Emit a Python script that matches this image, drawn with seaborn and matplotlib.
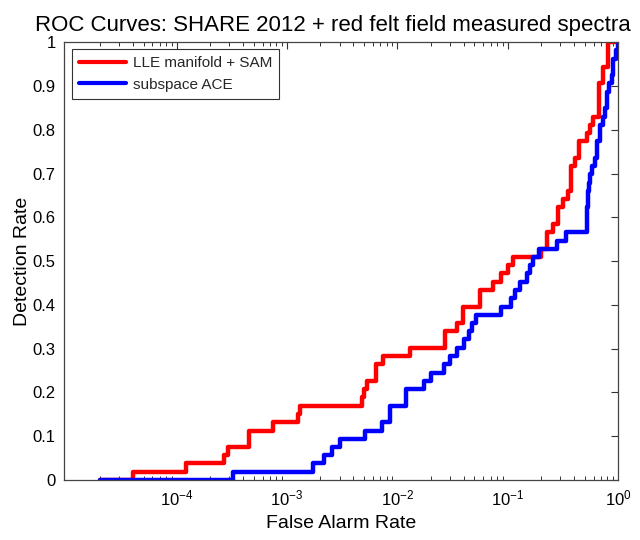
import numpy as np
import pandas as pd
import matplotlib
matplotlib.use("Agg")
import matplotlib.pyplot as plt
from matplotlib.ticker import (LogLocator, FixedLocator, FixedFormatter,
                               NullFormatter, LogFormatterSciNotation)
import seaborn as sns

# False alarm rate / detection rate pairs where each ROC curve steps up
lle_far = [2.0e-5, 4.0e-5, 1.22e-4, 2.66e-4, 2.90e-4, 4.48e-4, 7.39e-4, 1.245e-3,
           1.32e-3, 4.82e-3, 4.98e-3, 5.36e-3, 6.46e-3, 7.40e-3, 1.30e-2, 2.72e-2,
           3.49e-2, 3.96e-2, 5.63e-2, 7.39e-2, 8.73e-2, 0.101, 0.112, 0.200, 0.226,
           0.260, 0.288, 0.320, 0.355, 0.376, 0.408, 0.446, 0.521, 0.558, 0.598,
           0.677, 0.736, 0.817, 1.0]
lle_pd = [0.0, 0.019, 0.038, 0.057, 0.075, 0.113, 0.132, 0.151,
          0.170, 0.189, 0.208, 0.226, 0.264, 0.283, 0.302, 0.340,
          0.358, 0.396, 0.434, 0.453, 0.472, 0.491, 0.509, 0.528, 0.566,
          0.585, 0.623, 0.642, 0.660, 0.717, 0.736, 0.774, 0.792, 0.811, 0.830,
          0.906, 0.943, 1.0, 1.0]

ace_far = [2.0e-5, 3.26e-4, 1.71e-3, 2.15e-3, 2.53e-3, 2.99e-3, 5.13e-3, 7.24e-3,
           8.64e-3, 1.19e-2, 1.73e-2, 2.03e-2, 2.62e-2, 2.97e-2, 3.47e-2, 3.98e-2,
           4.42e-2, 4.74e-2, 5.19e-2, 8.68e-2, 0.1076, 0.1157, 0.128, 0.149, 0.160,
           0.171, 0.194, 0.282, 0.338, 0.521, 0.527, 0.535, 0.543, 0.552, 0.582,
           0.619, 0.641, 0.687, 0.727, 0.762, 0.791, 0.829, 0.883, 0.906, 0.959,
           0.99, 1.0]
ace_pd = [0.0, 0.019, 0.038, 0.057, 0.075, 0.094, 0.113, 0.132,
          0.170, 0.208, 0.226, 0.245, 0.264, 0.283, 0.302, 0.321,
          0.340, 0.358, 0.377, 0.396, 0.415, 0.434, 0.453, 0.472, 0.491,
          0.509, 0.528, 0.547, 0.566, 0.585, 0.623, 0.660, 0.679, 0.698, 0.717,
          0.736, 0.774, 0.811, 0.830, 0.849, 0.887, 0.906, 0.925, 0.962, 0.981,
          1.0, 1.0]

series_names = ["LLE manifold + SAM", "subspace ACE"]
series_colors = ["#ff0000", "#0000ff"]

x_ticks = [1e-4, 1e-3, 1e-2, 1e-1, 1.0]
y_ticks = [0, 0.1, 0.2, 0.3, 0.4, 0.5, 0.6, 0.7, 0.8, 0.9, 1]
y_tick_labels = ["0", "0.1", "0.2", "0.3", "0.4", "0.5", "0.6", "0.7", "0.8", "0.9", "1"]

df = pd.concat([
    pd.DataFrame({"far": lle_far, "pd": lle_pd, "method": series_names[0]}),
    pd.DataFrame({"far": ace_far, "pd": ace_pd, "method": series_names[1]}),
], ignore_index=True)

sns.set_theme(style="white")
plt.rcParams["font.family"] = ["Liberation Sans", "DejaVu Sans"]
plt.rcParams["mathtext.fontset"] = "custom"
plt.rcParams["mathtext.rm"] = "Liberation Sans"
plt.rcParams["mathtext.it"] = "Liberation Sans:italic"

fig = plt.figure(figsize=(6.4, 5.4), dpi=100)
ax = fig.add_axes([0.1, 0.111, 0.8656, 0.811])

sns.lineplot(data=df, x="far", y="pd", hue="method", hue_order=series_names,
             palette=series_colors, estimator=None, sort=False,
             drawstyle="steps-post", linewidth=3.2, ax=ax, legend=True)

ax.set_xscale("log")
ax.set_xlim(9.5e-6, 1.0)
ax.set_ylim(0, 1)

ax.xaxis.set_major_locator(FixedLocator(x_ticks))
ax.xaxis.set_major_formatter(LogFormatterSciNotation(base=10))
ax.xaxis.set_minor_locator(LogLocator(base=10, subs=np.arange(2, 10), numticks=20))
ax.xaxis.set_minor_formatter(NullFormatter())
ax.yaxis.set_major_locator(FixedLocator(y_ticks))
ax.yaxis.set_major_formatter(FixedFormatter(y_tick_labels))

ax.tick_params(axis="both", which="major", direction="in", length=5, width=0.8,
               top=True, right=True, labelsize=12, colors="#333333",
               labelcolor="black", pad=6)
ax.tick_params(axis="x", which="minor", direction="in", length=3, width=0.7,
               top=True, bottom=True, colors="#333333")
for s in ax.spines.values():
    s.set_color("#444444")
    s.set_linewidth(0.9)

ax.set_title("ROC Curves: SHARE 2012 + red felt field measured spectra",
             fontsize=16, pad=8, color="black", x=0.485)
ax.set_xlabel("False Alarm Rate", fontsize=14, color="black", labelpad=5)
ax.set_ylabel("Detection Rate", fontsize=14, color="black", labelpad=1)

leg = ax.legend(loc="upper left", bbox_to_anchor=(0.0144, 0.984), borderaxespad=0,
                fontsize=11, frameon=True, fancybox=False, edgecolor="#333333",
                framealpha=1, handlelength=3.1, handletextpad=0.45,
                labelspacing=0.5, borderpad=0.45)
leg.get_frame().set_linewidth(0.8)
for line in leg.get_lines():
    line.set_linewidth(3.0)

fig.savefig("out.png", dpi=100, facecolor="white")
